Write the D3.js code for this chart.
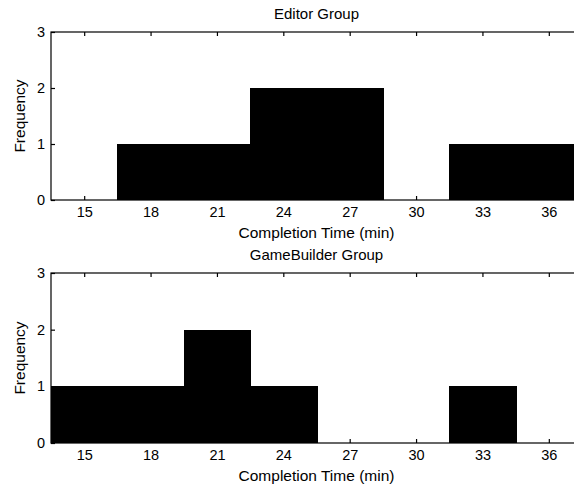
<!DOCTYPE html>
<html><head><meta charset="utf-8">
<script src="https://cdn.jsdelivr.net/npm/d3@7"></script>
<style>
body{margin:0;background:#fff;}
svg{display:block;}
text{font-family:"Liberation Sans",Arial,sans-serif;fill:#000;}
</style></head>
<body>
<svg id="c" width="574" height="488"></svg>
<script>
const binCenters = [15, 18, 21, 24, 27, 30, 33, 36];
const binWidth = 3;
const editorCounts = [0, 1, 1, 2, 2, 0, 1, 1];
const gameBuilderCounts = [1, 1, 2, 1, 0, 0, 1, 0];
const xTickLabels = [15, 18, 21, 24, 27, 30, 33, 36];
const yTickLabels = [0, 1, 2, 3];
const panelTitles = ["Editor Group", "GameBuilder Group"];
const xLabel = "Completion Time (min)";
const yLabel = "Frequency";

const svg = d3.select("#c");
const W = 574;
svg.append("defs").append("clipPath").attr("id","clipAll")
  .append("rect").attr("x",0).attr("y",0).attr("width",W).attr("height",488);

const x = d3.scaleLinear().domain([13.5, 37.5]).range([51, 582]);

const panels = [
  {title: panelTitles[0], counts: editorCounts, top: 32, bottom: 200},
  {title: panelTitles[1], counts: gameBuilderCounts, top: 273, bottom: 443}
];

panels.forEach((p, i) => {
  const y = d3.scaleLinear().domain([0, 3]).range([p.bottom, p.top]);
  const g = svg.append("g").attr("clip-path","url(#clipAll)");
  const data = binCenters.map((c, k) => ({c, v: p.counts[k]}));
  g.selectAll("rect.bar").data(data.filter(d => d.v > 0)).enter().append("rect")
    .attr("class","bar")
    .attr("x", d => Math.round(x(d.c - binWidth/2)))
    .attr("width", d => Math.round(x(d.c + binWidth/2)) - Math.round(x(d.c - binWidth/2)) + 1)
    .attr("y", d => Math.round(y(d.v)))
    .attr("height", d => Math.round(y(0)) - Math.round(y(d.v)))
    .attr("fill", "#000")
    .attr("shape-rendering","crispEdges");
  // box
  g.append("rect").attr("x", x(13.5)).attr("y", p.top)
    .attr("width", x(37.5) - x(13.5)).attr("height", p.bottom - p.top)
    .attr("fill","none").attr("stroke","#000").attr("stroke-width",1.2);

  const fontSize = 14.5;
  const xb = g.append("g").attr("transform",`translate(0,${p.bottom})`)
    .call(d3.axisBottom(x).tickValues(xTickLabels).tickSizeInner(-4).tickSizeOuter(0).tickPadding(7));
  const xt = g.append("g").attr("transform",`translate(0,${p.top})`)
    .call(d3.axisTop(x).tickValues(xTickLabels).tickSizeInner(-4).tickSizeOuter(0).tickFormat(""));
  const yl = g.append("g").attr("transform",`translate(${x(13.5)},0)`)
    .call(d3.axisLeft(y).tickValues(yTickLabels).tickSizeInner(-4).tickSizeOuter(0).tickPadding(6).tickFormat(d3.format("d")));
  [xb, xt, yl].forEach(a => {
    a.select(".domain").remove();
    a.selectAll("line").attr("stroke","#000").attr("stroke-width",1.2);
    a.selectAll("text").attr("font-size", fontSize).attr("font-family","Liberation Sans, Arial, sans-serif").attr("fill","#000");
  });

  const cx = (x(13.5) + x(37.5)) / 2;
  svg.append("text").attr("x", cx).attr("y", p.top - 13)
    .attr("text-anchor","middle").attr("font-size",15).text(p.title);
  svg.append("text").attr("x", cx).attr("y", p.bottom + 38)
    .attr("text-anchor","middle").attr("font-size",15.5).text(xLabel);
  svg.append("text").attr("transform",`translate(25,${(p.top+p.bottom)/2}) rotate(-90)`)
    .attr("text-anchor","middle").attr("font-size",15.5).text(yLabel);
});
</script>
</body></html>
